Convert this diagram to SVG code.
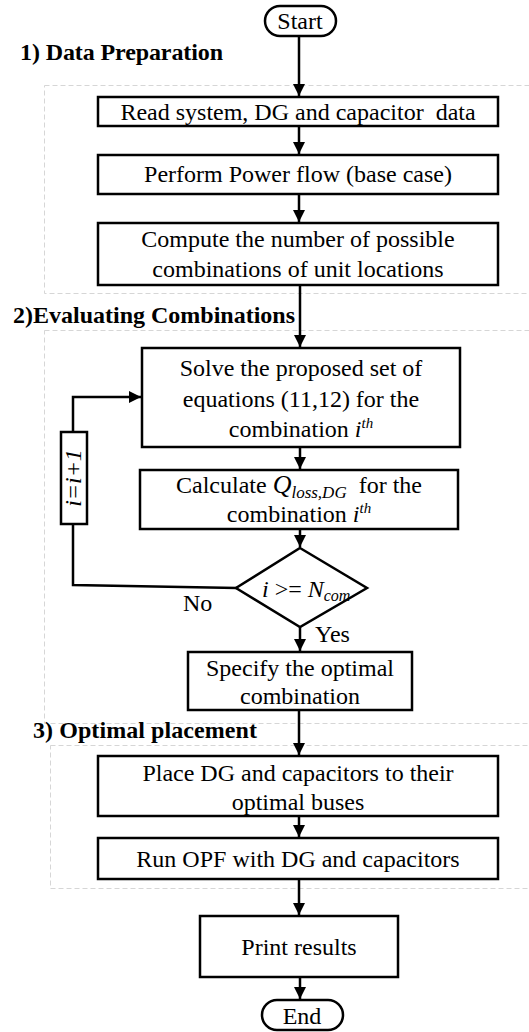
<svg xmlns="http://www.w3.org/2000/svg" width="529" height="1032" viewBox="0 0 529 1032">
<style>
text{font-family:"Liberation Serif","Times New Roman",serif;font-size:24px;fill:#000}
.c{text-anchor:middle}
.h{font-weight:bold}
.it{font-style:italic}
.box{fill:#fff;stroke:#000;stroke-width:2.5}
.grp{fill:none;stroke:#d6d6d6;stroke-width:1;stroke-dasharray:5 3}
.ln{fill:none;stroke:#000;stroke-width:2.5}
.ar{marker-end:url(#arr)}
</style>
<defs>
<marker id="arr" markerUnits="userSpaceOnUse" markerWidth="14" markerHeight="14" refX="12" refY="6" orient="auto">
<path d="M0,0 L12,6 L0,12 z" fill="#000"/>
</marker>
</defs>
<rect width="529" height="1032" fill="#fff"/>

<g id="sections">
<rect class="grp" x="44.5" y="85.5" width="485" height="208"/>
<rect class="grp" x="44.5" y="330.5" width="485" height="393"/>
<rect class="grp" x="50.5" y="745.5" width="479" height="143"/>
<text class="h" x="20" y="60" textLength="203" lengthAdjust="spacing">1) Data Preparation</text>
<text class="h" x="13" y="323" textLength="282" lengthAdjust="spacing">2)Evaluating Combinations</text>
<text class="h" x="33" y="738" textLength="224" lengthAdjust="spacing">3) Optimal placement</text>
</g>

<g id="connectors">
<line class="ln ar" x1="299" y1="36" x2="299" y2="96"/>
<line class="ln ar" x1="299" y1="126" x2="299" y2="154"/>
<line class="ln ar" x1="299" y1="194" x2="299" y2="222"/>
<line class="ln ar" x1="300" y1="285" x2="300" y2="347"/>
<line class="ln ar" x1="300" y1="447" x2="300" y2="469"/>
<line class="ln ar" x1="300" y1="529" x2="300" y2="547"/>
<line class="ln ar" x1="300" y1="627" x2="300" y2="651"/>
<line class="ln ar" x1="299" y1="710" x2="299" y2="755"/>
<line class="ln ar" x1="299" y1="816" x2="299" y2="837"/>
<line class="ln ar" x1="299" y1="879" x2="299" y2="915"/>
<line class="ln ar" x1="300" y1="977" x2="300" y2="999"/>
<path class="ln ar" d="M237,588 L73,585 L73,397 L141,397"/>
<text x="183" y="611">No</text>
<text x="315" y="642">Yes</text>
</g>

<g id="start">
<rect class="box" x="265" y="6" width="71" height="30" rx="15"/>
<text class="c" x="300" y="29" font-size="25">Start</text>
</g>

<g id="read-data">
<rect class="box" x="98" y="97" width="400" height="29"/>
<text class="c" x="298" y="120" xml:space="preserve">Read system, DG and capacitor  data</text>
</g>

<g id="power-flow">
<rect class="box" x="98" y="155" width="400" height="39"/>
<text class="c" x="298" y="182">Perform Power flow (base case)</text>
</g>

<g id="compute-combinations">
<rect class="box" x="98" y="223" width="400" height="62"/>
<text class="c" x="298" y="247">Compute the number of possible</text>
<text class="c" x="298" y="277">combinations of unit locations</text>
</g>

<g id="solve-equations">
<rect class="box" x="142" y="348" width="318" height="99"/>
<text class="c" x="301" y="376">Solve the proposed set of</text>
<text class="c" x="301" y="407">equations (11,12) for the</text>
<text class="c" x="301" y="437">combination <tspan class="it">i</tspan><tspan class="it" font-size="15" dy="-9">th</tspan></text>
</g>

<g id="calculate-q">
<rect class="box" x="140" y="470" width="318" height="59"/>
<text class="c" x="299" y="493" xml:space="preserve">Calculate <tspan class="it" font-size="26">Q</tspan><tspan class="it" font-size="17" dy="5">loss,DG</tspan><tspan dy="-5">  for the</tspan></text>
<text class="c" x="299" y="522">combination <tspan class="it">i</tspan><tspan class="it" font-size="15" dy="-9">th</tspan></text>
</g>

<g id="increment">
<rect class="box" x="61" y="432" width="26" height="92"/>
<text class="c it" transform="translate(81,478) rotate(-90)">i=i+1</text>
</g>

<g id="decision">
<polygon class="box" points="300,548 367,588 300,627 236,588"/>
<text x="262" y="597"><tspan class="it">i</tspan> &gt;= <tspan class="it">N</tspan><tspan class="it" font-size="16" dy="4">com</tspan></text>
</g>

<g id="specify-optimal">
<rect class="box" x="188" y="652" width="224" height="58"/>
<text class="c" x="300" y="676">Specify the optimal</text>
<text class="c" x="300" y="704">combination</text>
</g>

<g id="place-units">
<rect class="box" x="98" y="756" width="400" height="60"/>
<text class="c" x="298" y="781">Place DG and capacitors to their</text>
<text class="c" x="298" y="810">optimal buses</text>
</g>

<g id="run-opf">
<rect class="box" x="98" y="838" width="400" height="41"/>
<text class="c" x="298" y="867">Run OPF with DG and capacitors</text>
</g>

<g id="print-results">
<rect class="box" x="200" y="916" width="198" height="61"/>
<text class="c" x="299" y="955">Print results</text>
</g>

<g id="end">
<rect class="box" x="262" y="1000" width="81" height="30" rx="15"/>
<text class="c" x="302" y="1024">End</text>
</g>
</svg>
